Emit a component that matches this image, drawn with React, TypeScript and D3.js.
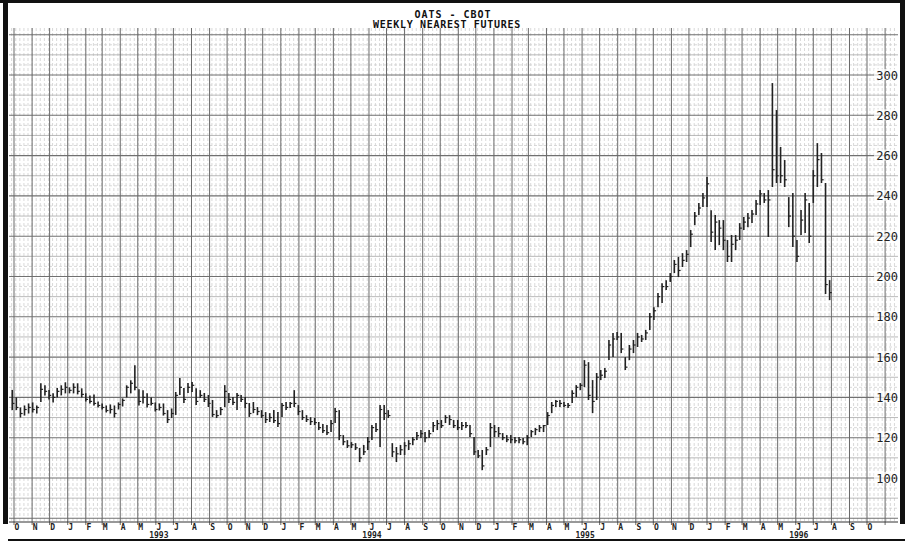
import React from 'react';
import * as d3 from 'd3';

// Weekly nearest oats futures (cents/bu), first bar week of 28 Sep 1992
const firstWeek = new Date(1992, 8, 28);
const highs = [143.7,140,135,136,137,137.5,136,147,146,143.7,142,144.7,146,147.5,145,147,147,144.5,142,141,141.5,138,137,136,136.5,136,137.5,139.5,146,148.5,156,144,143.5,142,140,137.5,137,137,133.7,134.5,142.7,149.6,144.7,147.1,147.6,144.6,143.6,142.2,141.2,138.7,133.7,135.2,146.1,142.2,140.2,142.2,141.2,140.2,137.2,137.7,135.2,133.7,132.7,132.2,133.7,132.7,137.2,137.7,137.7,143.6,136.2,133.7,131.2,130.2,129.8,127.8,126.8,126.3,128.8,134.7,133.7,121.3,118.8,117.8,117.3,114.9,116.4,120.3,126.3,127.3,136.2,136.2,133.7,117.3,115.4,116.4,117.8,118.8,120.3,122.8,123.8,122.8,123.8,127.8,128.8,128.8,131.2,131.2,128.8,128.8,127.8,127.8,126.3,120.3,113.9,113.9,115.4,127.3,126.3,125.3,122.3,121.3,121.3,120.3,120.3,119.8,121.3,123.8,124.8,126.3,126.3,132.7,137.7,138.7,138.7,137.7,137.2,143.6,146.1,147.1,158.5,157.5,148.6,152.1,153.6,154.6,168.5,172,172.5,172,160,166,168.5,172,171,173.5,181.9,184.8,191.8,196.7,198.2,201.7,208.2,209.7,211.6,213.1,223.1,232,236.5,241.4,249.4,232.9,230.5,228,228,218.1,220.6,220.6,226.5,229.5,231.5,233,238,242.9,241.4,242.9,296,282.6,264.3,257.8,239.4,241.4,218.1,233,241.4,236.5,252.8,266.2,261.3,246.4,198.2];
const lows = [133.7,133.7,130,131,132,132.5,132,137.7,141,139,137.5,140,141,142,142,142,141.5,140,138,137,136,135,134,132.5,132,130,134,135.5,140,142,143.5,136,137,135,136,133,133.5,131,127.3,129.8,131.3,141.2,137.2,142.2,142.7,136.2,139.7,137.7,135.2,130.3,129.8,131.2,135.2,137.2,136.2,133.7,137.7,134.7,130.3,132.2,131.2,129.8,127.3,127.8,127.3,125.3,130.3,133.7,134.7,135.2,131.2,128.8,127.8,126.3,126.3,123.8,122.3,121.3,122.8,127.3,118.8,116.3,114.9,114.9,113.9,107.9,111.4,113.9,118.8,122.8,115.4,128.8,129.8,110.4,107.9,111.4,111.4,113.9,116.3,118.8,119.8,117.8,119.8,122.8,123.8,124.8,127.3,126.3,124.8,123.8,123.8,124.8,120.3,111.4,109.9,103.9,111.4,115.4,120.3,120.3,118.8,117.8,117.3,117.3,117.3,116.8,116.3,120.3,121.3,122.8,122.8,126.3,132.2,135.2,135.2,135.2,134.7,137.2,140.2,143.6,145.1,138.7,132.2,138.7,148.6,149.6,158.5,160,168.5,162,153.6,158.5,162,165,167.5,168.5,173.4,178.4,184.8,186.8,193.3,197.3,201.7,199.7,204.7,207.2,214.6,225.5,230.5,234.5,234.5,217.1,213.1,215.6,213.1,207.2,207.2,213.1,218.1,223.1,224.5,226.5,230.5,235.5,236.5,219.6,244.4,246.4,246.4,244.4,224.5,214.6,207.2,220.6,221.6,216.6,236.5,244.4,246.4,191.3,188.3];
const closes = [137,135,132,134,135,134,135,144,143,141,140,143,144,145,143.5,145,143,141.5,139,138,137,136,135,133.5,134,132,136.5,138.5,145,147,145,138,140,136.5,137,134,135,132,129,132,141,145,139,145,146,138,141,139,137,131.5,131,134,143,139,137.5,141,139,137,132,134,133,131,129,130,128.5,127,136,135,137,137,133,130,129,128,127.5,125,123.5,122.5,127,133,121,118,116,116.5,115,110,113,118,125,124,134,132,131,113,112,114,116,117,119,121,122,120,122,126,127,126,130,129,126,125,126,126,122,113,111,106,114,125,123,122,120,119,119,118.5,119,118,120,123,124,125,126,131,136,138,137,136,136,142,145,146,156,141,138,150,151,153,166,169,170,164,155,164,166,170,169,172,180,183,190,195,195,200,206,203,208,211,221,230,234,239,246,222,227,224,218,210,216,218,224,227,229,231,236,241,238,238,253,250,250,248,230,220,210,228,238,220,250,258,248,196,192];

const monthLetters = ['J', 'F', 'M', 'A', 'M', 'J', 'J', 'A', 'S', 'O', 'N', 'D'];
const priceTicks = [100, 120, 140, 160, 180, 200, 220, 240, 260, 280, 300];
const yearLabels = [1993, 1994, 1995, 1996];
const titleLines = ['OATS - CBOT', 'WEEKLY NEAREST FUTURES'];
const labelStart = new Date(1992, 9, 1);
const labelEnd = new Date(1996, 9, 2);

const W = 905;
const H = 542;
const plotLeft = 9;
const plotRight = 898;
const plotTop = 28;
const axisY = 522;

export default function App() {
  const x = d3.scaleTime().domain([new Date(1992, 9, 1), new Date(1996, 9, 1)]).range([14, 867]);
  const y = d3.scaleLinear().domain([100, 300]).range([478, 75]);

  const dates = highs.map((_, i) => d3.timeDay.offset(firstWeek, i * 7));

  const t0 = x.invert(plotLeft);
  const t1 = x.invert(plotRight);
  const weeks = d3.timeWeek.range(t0, t1);
  const months = d3.timeMonth.range(d3.timeMonth.ceil(t0), t1);
  const labelMonths = d3.timeMonth.range(labelStart, labelEnd);

  const pMin = y.invert(axisY);
  const pMax = y.invert(plotTop);
  const levels: number[] = [];
  for (let p = Math.ceil(pMin / 5) * 5; p <= pMax; p += 5) levels.push(p);

  const mono = '"DejaVu Sans Mono", monospace';

  return (
    <svg width={W} height={H} style={{ position: 'absolute', left: 0, top: 0, background: '#fff' }}>
      <rect x={0} y={0} width={W} height={H} fill="#fff" />
      {/* fine weekly grid */}
      {weeks.map((d, i) => (
        <line key={'w' + i} x1={x(d)} x2={x(d)} y1={plotTop} y2={axisY} stroke="#cfcfcf" strokeWidth={0.8} strokeDasharray="3,2" />
      ))}
      {/* horizontal levels */}
      {levels.map((p) => {
        const yy = y(p);
        const major = p % 20 === 0;
        const mid = p % 10 === 0;
        return (
          <line key={'h' + p} x1={plotLeft} x2={plotRight} y1={yy} y2={yy}
            stroke={major ? '#707070' : mid ? '#a8a8a8' : '#cfcfcf'}
            strokeWidth={major ? 1.1 : 0.8}
            strokeDasharray={major || mid ? undefined : '3,2'} />
        );
      })}
      {/* month lines */}
      {months.map((d, i) => (
        <line key={'m' + i} x1={x(d)} x2={x(d)} y1={plotTop} y2={axisY + 3} stroke="#6a6a6a" strokeWidth={1} />
      ))}
      {/* axis line */}
      <line x1={plotLeft} x2={plotRight} y1={axisY} y2={axisY} stroke="#333" strokeWidth={1} />
      {/* price bars */}
      <g stroke="#222" strokeWidth={1.6}>
        {dates.map((d, i) => {
          const xx = x(d);
          return (
            <g key={'b' + i}>
              <line x1={xx} x2={xx} y1={y(highs[i])} y2={y(lows[i])} />
              <line x1={xx} x2={xx + 2.2} y1={y(closes[i])} y2={y(closes[i])} strokeWidth={1.2} />
            </g>
          );
        })}
      </g>
      {/* y labels */}
      {priceTicks.map((p) => (
        <g key={'yl' + p}>
          <rect x={874} y={y(p) - 6} width={24} height={11} fill="#fff" opacity={0.7} />
          <text x={898} y={y(p) + 4.5} textAnchor="end" fontFamily={mono} fontSize={12} fill="#222">{p}</text>
        </g>
      ))}
      {/* month labels */}
      {labelMonths.map((d, i) => (
        <text key={'ml' + i} x={x(d) + 3} y={530} textAnchor="middle" fontFamily={mono} fontSize={8} fontWeight="bold" fill="#222">
          {monthLetters[d.getMonth()]}
        </text>
      ))}
      {/* year labels */}
      {yearLabels.map((yr) => {
        const xx = x(new Date(yr, 5, 1)) + 3;
        return (
          <text key={'yr' + yr} x={xx} y={538} textAnchor="middle" fontFamily={mono} fontSize={8} fontWeight="bold" fill="#222">{yr}</text>
        );
      })}
      {/* title */}
      <text x={453} y={17.5} textAnchor="middle" fontFamily={mono} fontSize={10} fontWeight="bold" letterSpacing={1} fill="#111">{titleLines[0]}</text>
      <text x={447} y={28} textAnchor="middle" fontFamily={mono} fontSize={10} fontWeight="bold" letterSpacing={0.7} fill="#111">{titleLines[1]}</text>
      {/* frame */}
      <rect x={0} y={0} width={W} height={3} fill="#111" />
      <rect x={3} y={0} width={5} height={axisY + 2} fill="#111" />
      <rect x={900} y={0} width={5} height={axisY + 2} fill="#111" />
      <rect x={8} y={539} width={W - 8} height={2} fill="#111" />
    </svg>
  );
}
